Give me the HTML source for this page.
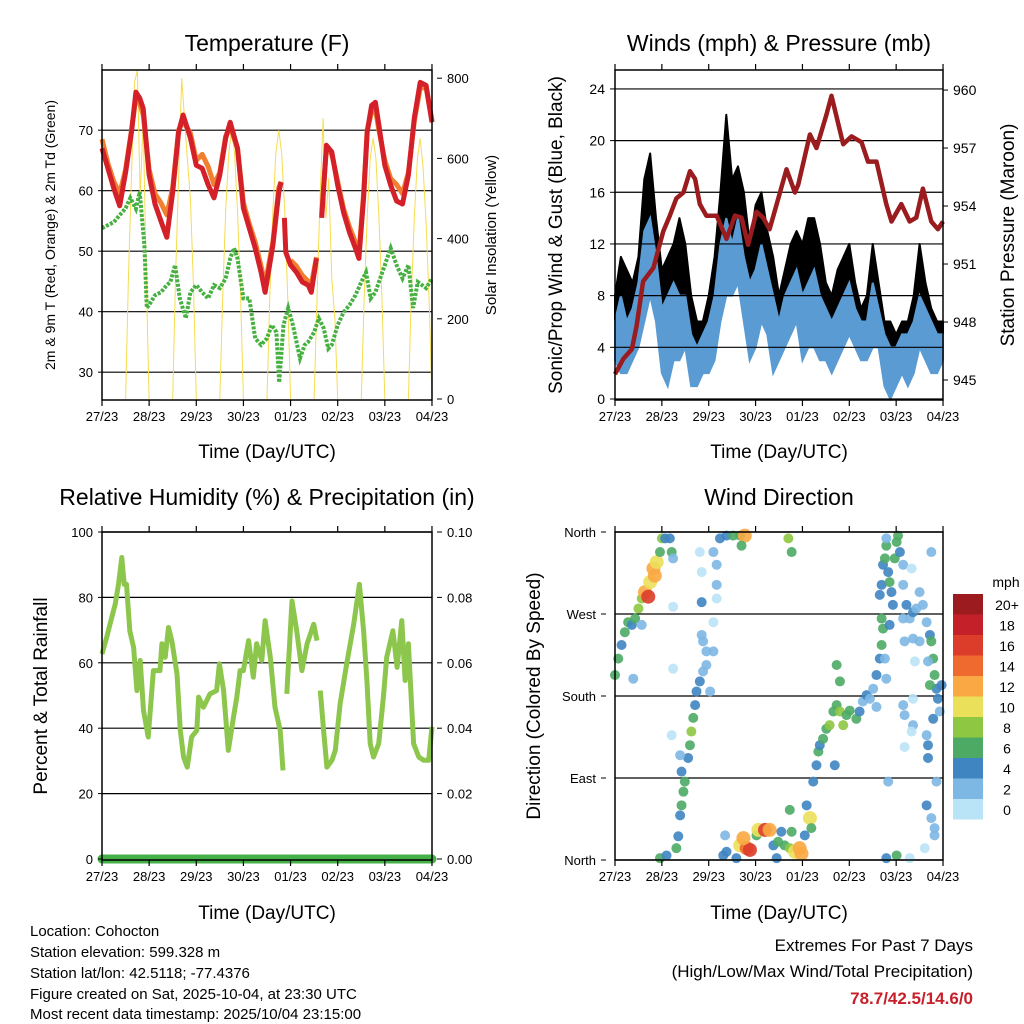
<!DOCTYPE html>
<html><head><meta charset="utf-8">
<style>
body{margin:0;background:#fff;}
svg{display:block;font-family:"Liberation Sans",sans-serif;}
</style></head>
<body>
<svg id="c" width="1024" height="1024" viewBox="0 0 1024 1024" xmlns="http://www.w3.org/2000/svg">
<rect width="1024" height="1024" fill="#fff"/>
<g id="static">
<text x="267" y="51" font-size="23" text-anchor="middle">Temperature (F)</text>
<text x="779" y="51" font-size="23" text-anchor="middle">Winds (mph) &amp; Pressure (mb)</text>
<text x="267" y="505" font-size="23" text-anchor="middle">Relative Humidity (%) &amp; Precipitation (in)</text>
<text x="779" y="505" font-size="23" text-anchor="middle">Wind Direction</text>
<text x="267" y="458" font-size="19" text-anchor="middle">Time (Day/UTC)</text>
<text x="779" y="458" font-size="19" text-anchor="middle">Time (Day/UTC)</text>
<text x="267" y="919" font-size="19" text-anchor="middle">Time (Day/UTC)</text>
<text x="779" y="919" font-size="19" text-anchor="middle">Time (Day/UTC)</text>
<text transform="translate(55,235) rotate(-90)" font-size="14" text-anchor="middle">2m &amp; 9m T (Red, Orange) &amp; 2m Td (Green)</text>
<text transform="translate(496,235) rotate(-90)" font-size="15" text-anchor="middle">Solar Insolation (Yellow)</text>
<text transform="translate(562,235) rotate(-90)" font-size="19" text-anchor="middle">Sonic/Prop Wind &amp; Gust (Blue, Black)</text>
<text transform="translate(1014,235) rotate(-90)" font-size="19" text-anchor="middle">Station Pressure (Maroon)</text>
<text transform="translate(47,696) rotate(-90)" font-size="19" text-anchor="middle">Percent &amp; Total Rainfall</text>
<text transform="translate(540,696) rotate(-90)" font-size="19" text-anchor="middle">Direction (Colored By Speed)</text>
<g font-size="15">
<text x="30" y="936">Location: Cohocton</text>
<text x="30" y="957">Station elevation: 599.328 m</text>
<text x="30" y="978">Station lat/lon: 42.5118; -77.4376</text>
<text x="30" y="999">Figure created on Sat, 2025-10-04, at 23:30 UTC</text>
<text x="30" y="1019">Most recent data timestamp: 2025/10/04 23:15:00</text>
</g>
<g font-size="17" text-anchor="end">
<text x="973" y="951">Extremes For Past 7 Days</text>
<text x="973" y="977">(High/Low/Max Wind/Total Precipitation)</text>
<text x="973" y="1004" fill="#c8202a" font-weight="bold">78.7/42.5/14.6/0</text>
</g>
<text x="1006" y="587" font-size="14" text-anchor="middle">mph</text>
</g>
</svg>
<script>
// ---------- data ----------
const dayLabels = ["27/23","28/23","29/23","30/23","01/23","02/23","03/23","04/23"];
const tempT = [0,.125,.25,.375,.5,.625,.72,.8,.875,1,1.125,1.25,1.375,1.5,1.625,1.72,1.875,2,2.125,2.25,2.375,2.5,2.625,2.72,2.875,3,3.125,3.25,3.375,3.46,3.625,3.75,3.8,3.83,3.87,3.9,4,4.125,4.25,4.375,4.44,4.55,4.6,4.66,4.76,4.875,5,5.125,5.25,5.375,5.45,5.55,5.625,5.72,5.8,5.875,6,6.125,6.25,6.375,6.5,6.625,6.75,6.875,7];
const tempRed = [67,63.7,60.4,57.5,63,69.7,76.3,75.3,73.6,62.6,57.8,55,52.3,59.8,69.7,72.5,68.7,64.2,63.7,61,58.8,62.6,68.7,71.3,67,57.1,53.8,50.5,46.5,43.2,51,59.8,61.4,null,55.5,49.8,47.7,46.5,44.9,44.4,43.2,48.8,null,55.5,67.5,66.4,60.9,56.4,53.1,50.5,48.8,58.8,69.7,74.1,74.6,70.8,64.2,60.9,58.3,57.8,62.6,72,77.9,77.4,71.3];
const tempOrange = [68.5,64.5,61.5,59.5,63.5,70,75.5,74.5,72.5,63.5,59.5,58,56,60.5,70,71.5,69.5,65,66,64,61,63,69,70.5,67,58,54.5,51.5,47.5,44.5,51.5,60.5,61.5,null,null,null,48.5,47.5,46,45,44.5,49,null,56,67,66,61.5,57,54,51.5,49.5,59.5,70,73,73.5,70,65,62,61,59.5,63,71.5,77,77,71.5];
const dewT = [0,.25,.5,.6,.72,.8,.9,.95,1,1.125,1.25,1.375,1.45,1.55,1.65,1.78,1.875,2,2.125,2.25,2.375,2.5,2.625,2.72,2.8,2.875,3,3.125,3.25,3.375,3.5,3.6,3.7,3.76,3.85,3.95,4.05,4.2,4.3,4.375,4.5,4.6,4.7,4.8,4.875,5,5.125,5.25,5.375,5.5,5.6,5.7,5.8,5.875,6,6.125,6.25,6.375,6.5,6.6,6.7,6.875,7];
const dewVals = [53.8,54.8,57.1,58.8,57,59.8,51,40.6,41.1,42.7,43.2,44.4,44.9,47.7,42.2,38.9,43.2,44.4,43.2,42.2,44.4,43.9,45.5,48.8,50.5,48.8,42.2,42.2,35.6,34.5,35.6,37.8,36.6,28.3,37.8,40.6,37.8,32.3,34.5,35,36.6,38.9,37.3,33.9,34.5,37.8,39.9,41.1,42.7,44.9,46.5,42.2,43.2,44.9,47.7,50.5,47.7,45.5,47.7,40.6,44.9,43.9,45.5];
const solarDayPeaks = [[0,300,560,790,820,500,700,300,0],[0,300,550,800,700,600,500,280,0],[0,255,470,615,670,615,470,255,0],[0,255,470,615,670,615,470,255,0],[0,250,500,700,450,550,300,200,0],[0,247,455,600,650,600,455,247,0],[0,250,450,600,650,580,440,240,0]];
const solarFrac = [.5,.56,.625,.69,.75,.81,.875,.94,1.0];
const windT = [0,.125,.25,.375,.5,.625,.75,.875,1,1.125,1.25,1.375,1.5,1.625,1.75,1.875,2,2.125,2.25,2.375,2.5,2.625,2.75,2.875,3,3.125,3.25,3.375,3.5,3.625,3.75,3.875,4,4.125,4.25,4.375,4.5,4.625,4.75,4.875,5,5.125,5.25,5.375,5.5,5.625,5.75,5.875,6,6.125,6.25,6.375,6.5,6.625,6.75,6.875,7];
const windLo = [3,2,2,3,4,6,8,6,2,1,3,3,4,1,1,2,2,3,6,8,8,9,6,3,4,6,5,2,3,4,5,6,3,4,4,3,3,2,3,4,5,4,3,3,4,4,1,0,1,2,1,2,4,3,2,2,3];
const windHi = [6,8,6,7,9,13,14,11,7,8,9,8,8,5,4,5,6,8,12,14,12,14,11,9,10,12,10,8,6,8,9,10,8,9,10,8,7,6,7,8,9,7,6,6,9,7,5,4,4,5,5,6,8,7,6,5,5];
const gustHi = [8,11,10,9,11,17,19,14,10,11,12,14,12,8,6,6,8,11,16,22,17,18,16,12,15,16,13,11,8,10,12,13,12,14,14,12,9,8,10,11,12,9,7,8,12,9,6,6,5,6,6,8,12,9,7,6,6];
const presT = [0,.18,.36,.46,.6,.82,1.03,1.17,1.31,1.46,1.6,1.71,1.81,1.95,2.17,2.38,2.56,2.7,2.84,3.02,3.16,3.3,3.45,3.66,3.84,3.91,4.16,4.3,4.51,4.62,4.87,5.05,5.26,5.4,5.58,5.79,5.9,6.11,6.29,6.43,6.57,6.75,6.89,7];
const presVals = [945.3,946.1,946.6,947.8,950.1,950.8,952.7,953.5,954.4,954.7,955.8,955.4,954.1,953.5,953.5,952.3,953.5,953.4,952,953.7,953.4,952.8,954.1,955.9,954.7,955.1,957.7,957,958.7,959.7,957.2,957.6,957.3,956.3,956.3,954.1,953.2,954.1,953.2,953.4,954.9,953.2,952.8,953.2];
const rhT = [0,.1,.17,.28,.35,.42,.47,.52,.59,.67,.74,.81,.88,.98,1.09,1.23,1.27,1.34,1.41,1.48,1.59,1.66,1.73,1.81,1.9,2.01,2.05,2.15,2.29,2.43,2.49,2.58,2.68,2.79,2.86,2.93,3,3.11,3.21,3.28,3.39,3.46,3.57,3.67,3.78,3.84,3.88,3.92,4.03,4.13,4.24,4.35,4.49,4.56,4.6,4.63,4.7,4.77,4.88,4.95,5.05,5.19,5.34,5.46,5.55,5.62,5.69,5.76,5.87,5.97,6.04,6.17,6.26,6.36,6.43,6.5,6.61,6.72,6.82,6.93,7];
const rhVals = [62.7,67.8,71.8,77.9,84,92.2,84,84,69.8,64.7,51.5,60.7,45.4,37.3,57.6,57.6,65.8,61.7,70.8,66.8,56.6,39.3,31.1,28.1,37.3,39.3,49.5,46.4,50.5,51.5,59.7,51.5,33.2,43.4,49.5,57.6,57.6,66.8,55.6,65.8,60.7,72.9,61.7,46.4,39.3,27.1,null,50.5,78.9,69.8,57.6,65.8,71.8,66.8,null,51.5,39.3,28.1,30.2,33.2,47.4,59.7,71.8,84,69.8,54.6,35.3,31.2,35.3,49.5,61.7,69.8,58.6,72.9,54.6,65.8,35.3,31.2,30.2,30.2,40.4];
const precipT = [0,7];
const precipVals = [0,0];
const dirT = [0,.07,.14,.21,.28,.36,.43,.5,.57,.64,.71,.75,.82,.85,.89,.96,1,1.07,1.17,1.21,1.24,.39,.57,1.24,1.24,
2.1,2.17,2.17,2.17,2.24,2.38,2.52,2.67,2.77,2.7,1.81,1.85,1.85,3.7,3.77,
.96,1.1,1.31,1.35,1.39,1.42,1.46,1.49,1.56,1.6,1.63,1.67,1.71,1.74,1.81,1.88,1.95,2.03,1.95,1.88,1.85,2.1,2.1,1.39,1.42,1.21,
2.31,2.35,2.38,2.67,2.81,2.88,2.74,3.02,3.06,3.2,3.3,3.38,3.48,3.55,3.62,3.73,3.84,3.94,3.98,3.77,3.73,4.05,4.16,4.19,2.59,3.45,
4.09,4.23,4.3,4.34,4.37,4.44,4.51,4.58,4.66,4.73,4.8,4.87,4.94,5.01,5.15,5.22,5.29,5.37,5.44,5.51,5.58,4.73,4.8,4.69,
5.58,5.65,5.69,5.72,5.69,5.65,5.69,5.72,5.76,5.79,5.83,5.86,5.9,5.93,5.97,6.01,6.04,6.08,6.15,6.15,5.79,5.86,5.76,5.79,5.83,6.01,5.79,
6.22,6.29,6.36,6.43,6.5,6.57,6.65,6.72,6.75,6.79,6.82,6.86,6.89,6.93,6.97,6.72,6.79,6.65,6.68,6.68,6.36,6.36,6.33,6.15,6.18,6.18,6.65,6.75,6.82,6.82,6.61,6.29,6.86,6.4,6.36,6.75,6.33,6.15,6.18,6.5,6.68];
const dirVals = [203,221,236,250,261,258,265,276,287,294,289,305,320,312,327,338,353,353,353,338,331,199,258,278,210,
338,324,302,287,353,356,356,356,356,345,338,283,316,353,338,
2,5,13,26,49,60,75,86,112,126,141,156,170,185,196,207,214,185,229,240,247,261,229,115,97,137,
5,27,9,16,13,11,24,27,33,33,33,16,20,31,16,13,9,13,7,31,55,27,46,35,2,2,
60,86,104,119,126,133,144,148,163,170,163,148,159,164,155,163,174,181,177,188,168,214,196,104,
203,221,236,254,265,291,302,324,331,345,316,305,294,280,331,349,356,338,324,302,353,258,221,199,86,5,2,
280,265,272,276,294,280,261,247,240,221,203,188,177,163,192,192,155,137,126,112,177,148,141,170,159,124,60,46,35,27,13,2,86,218,243,338,320,265,240,240,218];
const dirSpeed = [6,7,5,6,7,4,6,8,9,12,17,10,13,12,11,7,8,5,4,6,3,2,3,1,1,
3,2,2,1,4,5,6,7,13,6,1,4,1,9,7,
6,4,6,4,5,7,6,6,5,6,8,7,5,4,4,3,3,2,2,2,2,1,2,2,4,1,
4,3,4,11,14,17,12,6,10,16,12,5,6,5,7,9,10,13,12,6,7,5,10,6,4,5,
4,4,5,6,4,6,7,8,6,7,8,9,7,6,6,4,3,4,3,3,2,6,7,4,
4,4,6,7,6,4,5,5,6,6,4,6,5,4,6,7,6,4,3,2,3,4,3,3,2,6,4,
4,2,4,3,3,3,2,4,6,7,6,4,4,3,5,6,4,2,4,5,1,2,1,2,2,1,4,3,2,2,1,1,2,1,2,2,1,2,2,3,3];
const speedLabels = ["20+","18","16","14","12","10","8","6","4","2","0"];
const speedColors = ["#9b1b1e","#c4202a","#dc3c2a","#ef6a2e","#f9a843","#ebe05a","#8ec741","#4daa64","#3f85c2","#7db7e3","#b9e3f6"];
const tempTicks=[30,40,50,60,70], solarTicks=[0,200,400,600,800];
const windTicks=[0,4,8,12,16,20,24], presTicks=[945,948,951,954,957,960];
const rhTicks=[0,20,40,60,80,100], precTicks=["0.00","0.02","0.04","0.06","0.08","0.10"];
const dirTicks=[0,90,180,270,360], dirLabels=["North","East","South","West","North"];

// ---------- axes ----------
const NS="http://www.w3.org/2000/svg", svg=document.getElementById('c');
function el(tag,attrs,parent){const e=document.createElementNS(NS,tag);for(const k in attrs)e.setAttribute(k,attrs[k]);(parent||svg).appendChild(e);return e;}
const xL=d=>102+d*47.14, xR=d=>615+d*46.86;
const ty=v=>400-(v-25.4)*6.05, sy=v=>399-v*0.401;
const wy=v=>399-v*12.92, py=p=>380-(p-945)*19.33;
const ry=v=>859-v*3.27, dy=v=>860-v*82/90;
function pathFrom(ts,vs,fx,fy){let s="",pen=false;for(let i=0;i<ts.length;i++){if(vs[i]==null){pen=false;continue;}s+=(pen?"L":"M")+fx(ts[i]).toFixed(1)+","+fy(vs[i]).toFixed(1);pen=true;}return s;}

function frame(x0,y0,x1,y1,fx,name){
  const g=el('g',{});
  
  
  for(let d=0;d<=7;d++){const x=fx(d);
    el('line',{x1:x,y1:y0,x2:x,y2:y0-6,stroke:'#000','stroke-width':1.2},g);
    el('line',{x1:x,y1:y1,x2:x,y2:y1+6,stroke:'#000','stroke-width':1.2},g);
    const t=el('text',{x:x,y:y1+21,'font-size':13,'text-anchor':'middle'},g);t.textContent=dayLabels[d];
    
    
  }
  el('rect',{x:x0,y:y0,width:x1-x0,height:y1-y0,fill:'none',stroke:'#000','stroke-width':1.5},g);
}
function grid(vals,fy,x0,x1,name){vals.forEach(v=>{const l=el('line',{x1:x0,x2:x1,y1:fy(v),y2:fy(v),stroke:'#000','stroke-width':1.2});
  
  });}
function yLabels(vals,labs,fy,x,anchor,name,fs){vals.forEach((v,i)=>{const t=el('text',{x:x,y:fy(v)+5,'font-size':fs||13,'text-anchor':anchor});t.textContent=labs[i];
  
  
  const tx=anchor==='end'?x+5:x-5;el('line',{x1:tx,x2:tx+(anchor==='end'?5:-5),y1:fy(v),y2:fy(v),stroke:'#000'});});}

// ---------- Temperature panel ----------
grid(tempTicks,ty,102,432,'temp');
solarDayPeaks.forEach((vals,d)=>{const p=el('path',{d:pathFrom(solarFrac.map(f=>d+f),vals,xL,sy),fill:'none',stroke:'#f5dc50','stroke-width':1});
  
  });
let p=el('path',{d:pathFrom(tempT,tempOrange,xL,ty),fill:'none',stroke:'#f08030','stroke-width':5,'stroke-linejoin':'round'});


p=el('path',{d:pathFrom(tempT,tempRed,xL,ty),fill:'none',stroke:'#d42028','stroke-width':5,'stroke-linejoin':'round'});


p=el('path',{d:pathFrom(dewT,dewVals,xL,ty),fill:'none',stroke:'#46b040','stroke-width':4,'stroke-dasharray':'3 1.5'});


frame(102,70,432,400,xL,'temp');
yLabels(tempTicks,tempTicks,ty,93,'end','temp-y');
yLabels(solarTicks,solarTicks,sy,447,'start','solar-y');

// ---------- Winds panel ----------
const gustPoly=windT.map((t,i)=>xR(t)+","+wy(gustHi[i])).concat(windT.slice().reverse().map((t,j)=>{const i=windT.length-1-j;return xR(t)+","+wy(windHi[i]);})).join(" ");
p=el('polygon',{points:gustPoly,fill:'#000',stroke:'#000','stroke-width':2,'stroke-linejoin':'round'});


const windPoly=windT.map((t,i)=>xR(t)+","+wy(windHi[i])).concat(windT.slice().reverse().map((t,j)=>{const i=windT.length-1-j;return xR(t)+","+wy(windLo[i]);})).join(" ");
p=el('polygon',{points:windPoly,fill:'#5a9bd4',stroke:'#5a9bd4','stroke-width':2});


grid(windTicks,wy,615,943,'wind');
p=el('path',{d:pathFrom(presT,presVals,xR,py),fill:'none',stroke:'#9a1c1f','stroke-width':4.5,'stroke-linejoin':'round'});


frame(615,70,943,400,xR,'winds');
yLabels(windTicks,windTicks,wy,605,'end','wind-y',14);
yLabels(presTicks,presTicks,py,953,'start','pressure-y',14);

// ---------- RH panel ----------
grid(rhTicks,ry,102,432,'rh');
p=el('path',{d:pathFrom(rhT,rhVals,xL,ry),fill:'none',stroke:'#8dc64c','stroke-width':5,'stroke-linejoin':'round'});


p=el('path',{d:pathFrom(precipT,precipVals,xL,v=>ry(v*1000)),fill:'none',stroke:'#44b048','stroke-width':9,'stroke-linecap':'round'});


frame(102,532,432,860,xL,'rh');
yLabels(rhTicks,rhTicks,ry,93,'end','rh-y');
yLabels(rhTicks,precTicks,ry,447,'start','precip-y');

// ---------- Wind direction panel ----------
grid(dirTicks,dy,615,943,'direction');
dirT.forEach((t,i)=>{const s=dirSpeed[i];const bin=Math.min(10,Math.floor(s/2));
  const c=el('circle',{cx:xR(t),cy:dy(dirVals[i]),r:s>=10?7:5,fill:speedColors[10-bin],'fill-opacity':0.9});
  
  });
frame(615,532,943,860,xR,'direction');
yLabels(dirTicks,dirLabels,dy,596,'end','direction-y');

// colorbar
speedLabels.forEach((lab,i)=>{const y=594+i*20.5;
  const r=el('rect',{x:953,y:y,width:30,height:20.5,fill:speedColors[i]});
  
  
  const t=el('text',{x:1007,y:y+16,'font-size':14,'text-anchor':'middle'});t.textContent=lab;
  
  });
</script>
</body></html>
